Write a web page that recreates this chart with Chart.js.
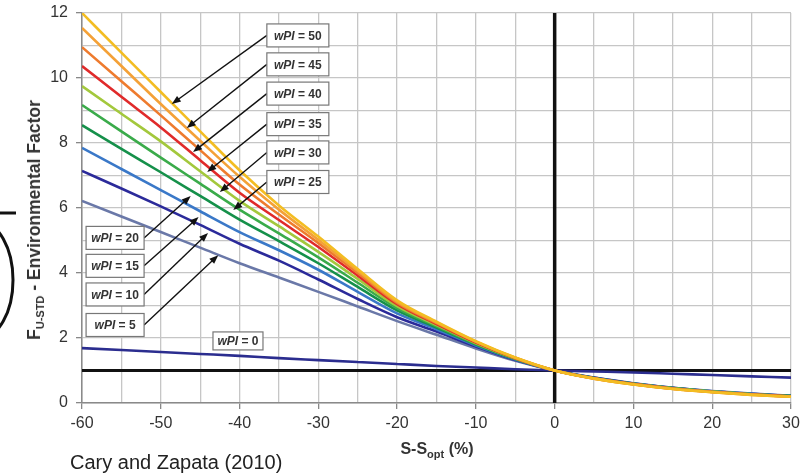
<!DOCTYPE html>
<html>
<head>
<meta charset="utf-8">
<script src="https://cdn.jsdelivr.net/npm/chart.js"></script>
<style>
  html, body { margin: 0; padding: 0; background: #fff; }
  #wrap { position: relative; width: 802px; height: 476px; font-family: "Liberation Sans", Arial, sans-serif; }
  canvas { position: absolute; left: 0; top: 0; }
  .ytitle {
    position: absolute; left: 35px; top: 220px;
    transform: translate(-50%, -50%) rotate(-90deg);
    white-space: nowrap; font-weight: bold; font-size: 17.5px; color: #333;
  }
  .ytitle sub, .xtitle sub { font-size: 11px; vertical-align: -4px; }
  .xtitle {
    position: absolute; left: 437px; top: 450px; transform: translate(-50%, -50%);
    white-space: nowrap; font-weight: bold; font-size: 16px; color: #333;
  }
  .source { position: absolute; left: 70px; top: 451px; font-size: 20px; color: #222; }
</style>
</head>
<body>
<div id="wrap">
  <canvas id="chart" width="802" height="476"></canvas>
  <div class="ytitle">F<sub>U-STD</sub> - Environmental Factor</div>
  <div class="xtitle">S-S<sub>opt</sub> (%)</div>
  <div class="source">Cary and Zapata (2010)</div>
</div>
<script>
// S - Sopt (%)
const xValues = [-60, -55, -50, -45, -40, -35, -30, -25, -20, -15, -10, -5, 0, 5, 10, 15, 20, 25, 30];

// F_U-STD for each wPI curve
const wpi50 = [12, 10.78, 9.57, 8.36, 7.16, 6.08, 5.12, 4.12, 3.16, 2.5, 1.9, 1.4, 1, 0.75, 0.57, 0.43, 0.33, 0.25, 0.19];
const wpi45 = [11.54, 10.37, 9.2, 8.07, 6.96, 5.95, 5.02, 4.07, 3.12, 2.48, 1.89, 1.39, 1, 0.75, 0.57, 0.43, 0.33, 0.25, 0.19];
const wpi40 = [10.95, 9.9, 8.85, 7.78, 6.72, 5.8, 4.92, 4.0, 3.08, 2.46, 1.88, 1.39, 1, 0.75, 0.58, 0.44, 0.34, 0.26, 0.2];
const wpi35 = [10.37, 9.42, 8.48, 7.47, 6.47, 5.63, 4.8, 3.92, 3.04, 2.43, 1.86, 1.38, 1, 0.76, 0.58, 0.44, 0.34, 0.26, 0.2];
const wpi30 = [9.75, 8.9, 8.05, 7.13, 6.22, 5.44, 4.65, 3.82, 2.98, 2.4, 1.84, 1.37, 1, 0.76, 0.58, 0.45, 0.35, 0.27, 0.2];
const wpi25 = [9.17, 8.36, 7.55, 6.75, 5.95, 5.22, 4.48, 3.7, 2.92, 2.36, 1.82, 1.36, 1, 0.76, 0.59, 0.45, 0.35, 0.27, 0.21];
const wpi20 = [8.55, 7.82, 7.1, 6.37, 5.64, 4.98, 4.3, 3.57, 2.85, 2.32, 1.8, 1.35, 1, 0.77, 0.59, 0.46, 0.35, 0.27, 0.21];
const wpi15 = [7.85, 7.2, 6.55, 5.9, 5.26, 4.7, 4.1, 3.42, 2.76, 2.27, 1.77, 1.34, 1, 0.77, 0.6, 0.46, 0.36, 0.28, 0.21];
const wpi10 = [7.14, 6.6, 6.05, 5.48, 4.9, 4.38, 3.8, 3.2, 2.64, 2.2, 1.74, 1.32, 1, 0.78, 0.6, 0.47, 0.36, 0.28, 0.22];
const wpi5  = [6.22, 5.74, 5.26, 4.78, 4.3, 3.86, 3.42, 2.97, 2.52, 2.1, 1.68, 1.3, 1, 0.78, 0.61, 0.47, 0.37, 0.29, 0.22];
const wpi0  = [1.69, 1.63, 1.57, 1.51, 1.45, 1.38, 1.32, 1.26, 1.2, 1.14, 1.09, 1.04, 1.0, 0.97, 0.94, 0.9, 0.86, 0.82, 0.78];

const wpiNames = [50, 45, 40, 35, 30, 25, 20, 15, 10, 5, 0];
const wpiSeries = [wpi50, wpi45, wpi40, wpi35, wpi30, wpi25, wpi20, wpi15, wpi10, wpi5, wpi0];
const wpiColors = ['#f3bd22', '#f4a137', '#ee7b2e', '#e02a2a', '#a3c83c', '#3aab4a', '#15904a', '#3a78c8', '#2b2a9a', '#6a78a8', '#2b2d8f'];

// reference lines: F = 1 and S - Sopt = 0
const refX = [-60, 30];
const refY = [1, 1];
const zeroX = [0, 0];
const zeroY = [0, 12];

// label boxes (data coordinates): centre x, centre y, and arrow tip
const callouts = [
  { w: 50, cx: -32.6, cy: 11.31, tx: -48.6, ty: 9.2, side: 'right' },
  { w: 45, cx: -32.6, cy: 10.42, tx: -46.7, ty: 8.46, side: 'right' },
  { w: 40, cx: -32.6, cy: 9.52, tx: -45.9, ty: 7.72, side: 'right' },
  { w: 35, cx: -32.6, cy: 8.58, tx: -44.1, ty: 7.11, side: 'right' },
  { w: 30, cx: -32.6, cy: 7.71, tx: -42.5, ty: 6.49, side: 'right' },
  { w: 25, cx: -32.6, cy: 6.8, tx: -40.8, ty: 5.94, side: 'right' },
  { w: 20, cx: -55.8, cy: 5.08, tx: -46.2, ty: 6.37, side: 'left' },
  { w: 15, cx: -55.8, cy: 4.22, tx: -45.2, ty: 5.72, side: 'left' },
  { w: 10, cx: -55.8, cy: 3.34, tx: -44.0, ty: 5.23, side: 'left' },
  { w: 5, cx: -55.8, cy: 2.4, tx: -42.7, ty: 4.55, side: 'left' },
  { w: 0, cx: -40.2, cy: 1.91, side: 'none' }
];

const toPoints = (xs, ys) => xs.map((x, i) => ({ x: x, y: ys[i] }));

const datasets = wpiSeries.map((ys, i) => ({
  label: 'wPI = ' + wpiNames[i],
  data: toPoints(xValues, ys),
  borderColor: wpiColors[i],
  borderWidth: 2.6,
  pointRadius: 0,
  fill: false,
  cubicInterpolationMode: 'monotone'
}));
datasets.push({ label: 'F = 1', data: toPoints(refX, refY), borderColor: '#111', borderWidth: 3, pointRadius: 0 });
datasets.push({ label: 'S = Sopt', data: toPoints(zeroX, zeroY), borderColor: '#111', borderWidth: 3.5, pointRadius: 0 });

function arrow(ctx, x1, y1, x2, y2) {
  const a = Math.atan2(y2 - y1, x2 - x1);
  const len = 9, half = 3.5;
  ctx.beginPath();
  ctx.moveTo(x1, y1);
  ctx.lineTo(x2 - Math.cos(a) * len * 0.8, y2 - Math.sin(a) * len * 0.8);
  ctx.stroke();
  ctx.beginPath();
  ctx.moveTo(x2, y2);
  ctx.lineTo(x2 - Math.cos(a) * len - Math.sin(a) * half, y2 - Math.sin(a) * len + Math.cos(a) * half);
  ctx.lineTo(x2 - Math.cos(a) * len + Math.sin(a) * half, y2 - Math.sin(a) * len - Math.cos(a) * half);
  ctx.closePath();
  ctx.fill();
}

const calloutPlugin = {
  id: 'callouts',
  afterDatasetsDraw(chart) {
    const { ctx, scales } = chart;
    const xs = scales.x, ys = scales.y;
    ctx.save();
    callouts.forEach(c => {
      const bw = c.side === 'left' ? 58 : (c.side === 'right' ? 62 : 50);
      const bh = c.side === 'none' ? 18 : 23;
      const cx = xs.getPixelForValue(c.cx), cy = ys.getPixelForValue(c.cy);
      if (c.side !== 'none') {
        const sx = c.side === 'right' ? cx - bw / 2 : cx + bw / 2;
        ctx.strokeStyle = '#111';
        ctx.fillStyle = '#111';
        ctx.lineWidth = 1.4;
        arrow(ctx, sx, cy, xs.getPixelForValue(c.tx), ys.getPixelForValue(c.ty));
      }
      ctx.fillStyle = '#fff';
      ctx.fillRect(cx - bw / 2, cy - bh / 2, bw, bh);
      ctx.strokeStyle = '#777';
      ctx.lineWidth = 1.2;
      ctx.strokeRect(cx - bw / 2, cy - bh / 2, bw, bh);
      const p1 = 'wPI', p2 = ' = ' + c.w;
      ctx.font = 'italic bold 12px "Liberation Sans", Arial, sans-serif';
      const w1 = ctx.measureText(p1).width;
      ctx.font = 'bold 12px "Liberation Sans", Arial, sans-serif';
      const w2 = ctx.measureText(p2).width;
      const left = cx - (w1 + w2) / 2;
      ctx.fillStyle = '#333';
      ctx.textBaseline = 'middle';
      ctx.font = 'italic bold 12px "Liberation Sans", Arial, sans-serif';
      ctx.fillText(p1, left, cy + 1);
      ctx.font = 'bold 12px "Liberation Sans", Arial, sans-serif';
      ctx.fillText(p2, left + w1, cy + 1);
    });
    ctx.restore();
  },
  afterDraw(chart) {
    // cropped marks at the left edge of the source figure
    const ctx = chart.ctx;
    ctx.save();
    ctx.strokeStyle = '#111';
    ctx.lineWidth = 3;
    ctx.beginPath();
    ctx.moveTo(0, 213);
    ctx.lineTo(16, 213);
    ctx.stroke();
    ctx.beginPath();
    ctx.ellipse(-20, 280, 33, 58, 0, -Math.PI / 2, Math.PI / 2);
    ctx.stroke();
    ctx.restore();
  }
};

new Chart(document.getElementById('chart'), {
  type: 'line',
  data: { datasets: datasets },
  plugins: [calloutPlugin],
  options: {
    responsive: false,
    animation: false,
    layout: { padding: { top: 13, right: 11, bottom: 0, left: 0 } },
    plugins: { legend: { display: false }, tooltip: { enabled: false } },
    scales: {
      x: {
        type: 'linear', min: -60, max: 30,
        afterFit: s => { s.height = 73; s.paddingLeft = 0; s.paddingRight = 0; },
        ticks: {
          stepSize: 5, color: '#333', padding: 5,
          font: { family: '"Liberation Sans", Arial, sans-serif', size: 16 },
          callback: v => (v % 10 === 0 ? v : '')
        },
        grid: {
          color: '#c6c6c6', lineWidth: 1.3, tickLength: 6,
          tickColor: c => (c.tick && c.tick.value % 10 === 0 ? '#888' : 'rgba(0,0,0,0)')
        },
        border: { color: '#8a8a8a', width: 1.5 }
      },
      y: {
        min: 0, max: 12,
        afterFit: s => { s.width = 82; s.paddingTop = 0; s.paddingBottom = 0; },
        ticks: {
          stepSize: 1, color: '#333', padding: 8,
          font: { family: '"Liberation Sans", Arial, sans-serif', size: 16 },
          callback: v => (v % 2 === 0 ? v : '')
        },
        grid: {
          color: '#c6c6c6', lineWidth: 1.3, tickLength: 6,
          tickColor: c => (c.tick && c.tick.value % 2 === 0 ? '#888' : 'rgba(0,0,0,0)')
        },
        border: { color: '#8a8a8a', width: 1.5 }
      }
    }
  }
});
</script>
</body>
</html>
